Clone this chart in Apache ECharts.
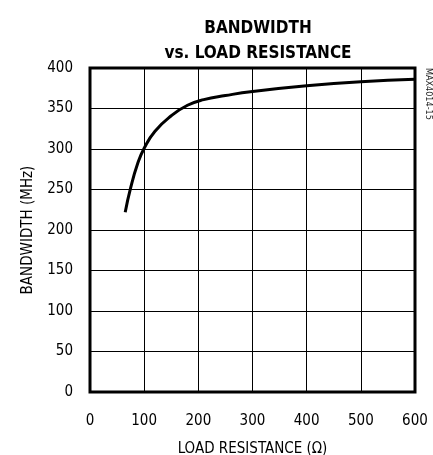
<!DOCTYPE html>
<html>
<head>
<meta charset="utf-8">
<script src="https://cdn.jsdelivr.net/npm/echarts@6/dist/echarts.min.js"></script>
<style>
  html, body { margin: 0; padding: 0; background: #fff; }
  #chart { width: 433px; height: 455px; }
</style>
</head>
<body>
<div id="chart"></div>
<script>
// load resistance (ohm) vs bandwidth (MHz)
var resistance = [65, 75, 88, 100, 120, 150, 180, 210, 250, 300, 400, 500, 600];
var bandwidth = [222, 252, 282, 301, 322, 341, 354, 361, 366, 371, 378, 383, 386];
var xTicks = [0, 100, 200, 300, 400, 500, 600];
var yTicks = [0, 50, 100, 150, 200, 250, 300, 350, 400];

var font = "'Liberation Sans Narrow', 'DejaVu Sans Condensed', Arial, sans-serif";

var myChart = echarts.init(document.getElementById("chart"));
var option = {
  animation: false,
  title: {
    text: "BANDWIDTH\nvs. LOAD RESISTANCE",
    left: 253,
    top: 11,
    textAlign: "center",
    textStyle: {
      fontFamily: font,
      fontWeight: "bold",
      fontSize: 17,
      lineHeight: 25,
      color: "#000"
    }
  },
  graphic: [
    {
      type: "text",
      left: 424,
      top: 68,
      rotation: -Math.PI / 2,
      style: {
        text: "MAX4014-15",
        font: "9px " + font,
        fill: "#222"
      }
    }
  ],
  grid: {
    left: 90,
    right: 18,
    top: 68,
    bottom: 63,
    outerBoundsMode: "none",
    containLabel: false,
    show: true,
    borderColor: "#000",
    borderWidth: 3
  },
  xAxis: {
    type: "value",
    min: 0,
    max: 600,
    interval: 100,
    name: "LOAD RESISTANCE (Ω)",
    nameLocation: "middle",
    nameGap: 50,
    nameTextStyle: { fontFamily: font, fontSize: 15, color: "#000" },
    axisLine: { show: false },
    axisTick: { show: false },
    axisLabel: {
      margin: 22,
      fontFamily: font,
      fontSize: 15,
      color: "#000"
    },
    splitLine: { show: true, lineStyle: { color: "#000", width: 1 } }
  },
  yAxis: {
    type: "value",
    min: 0,
    max: 400,
    interval: 50,
    name: "BANDWIDTH (MHz)",
    nameLocation: "middle",
    nameGap: 54,
    nameTextStyle: { fontFamily: font, fontSize: 15, color: "#000" },
    axisLine: { show: false },
    axisTick: { show: false },
    axisLabel: {
      margin: 17,
      fontFamily: font,
      fontSize: 15,
      color: "#000",
      padding: [10, 0, 0, 0]
    },
    splitLine: { show: true, lineStyle: { color: "#000", width: 1 } }
  },
  series: [
    {
      type: "line",
      smooth: true,
      showSymbol: false,
      lineStyle: { color: "#000", width: 3 },
      data: resistance.map(function (r, i) { return [r, bandwidth[i]]; })
    }
  ]
};
myChart.setOption(option);
</script>
</body>
</html>
